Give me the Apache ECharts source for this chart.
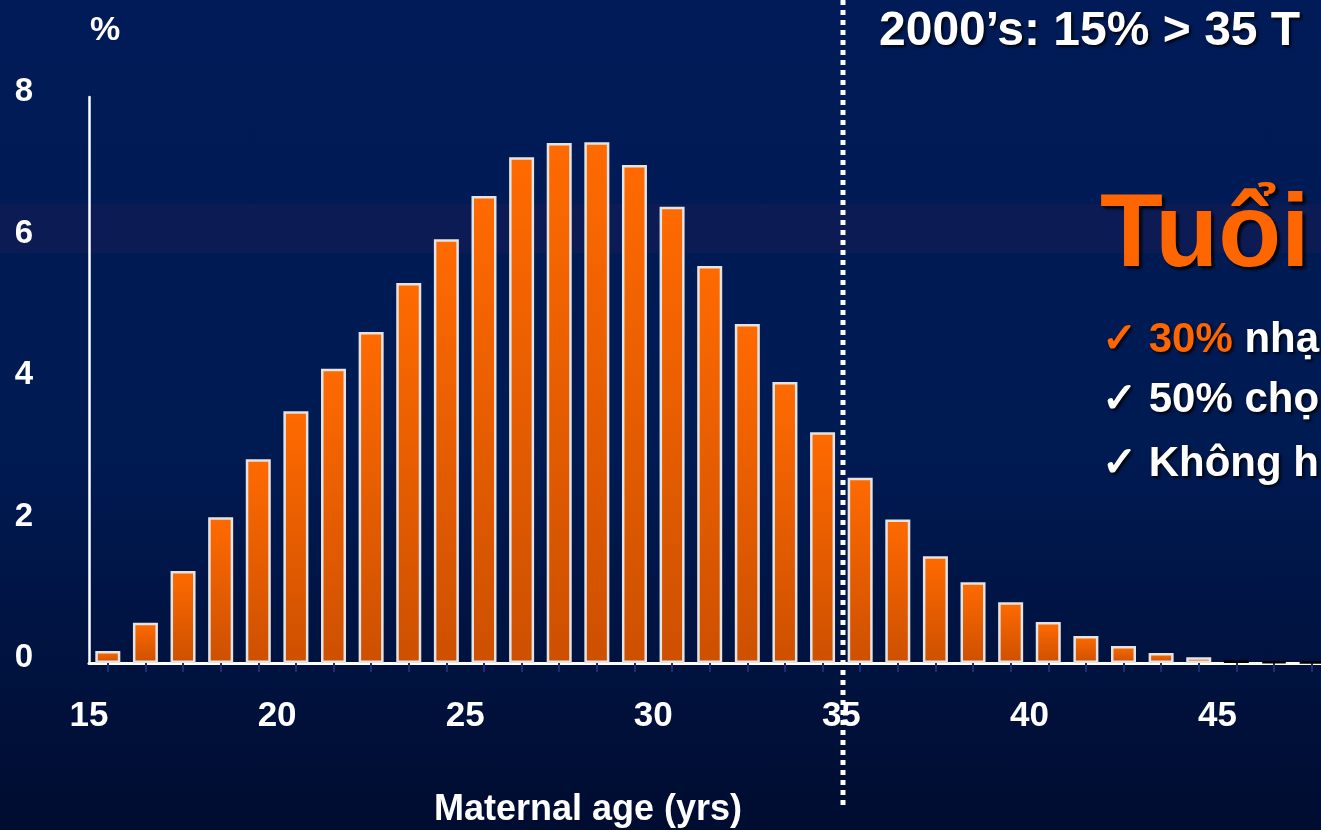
<!DOCTYPE html>
<html lang="vi">
<head>
<meta charset="UTF-8">
<title>Maternal age (yrs)</title>
<script src="https://cdn.jsdelivr.net/npm/echarts@6/dist/echarts.min.js"></script>
<style>
    body {
        margin: 0;
        padding: 0;
        background: #000c30;
    }
    #chart {
        width: 1321px;
        height: 830px;
        background: linear-gradient(180deg, #001b57 0%, #001a52 55%, #000c30 100%);
    }
</style>
</head>
<body>
<div id="chart"></div>
<script>
    // bar centres (age in years) and share of births (%)
    const ages = [15.5, 16.5, 17.5, 18.5, 19.5, 20.5, 21.5, 22.5, 23.5, 24.5, 25.5,
        26.5, 27.5, 28.5, 29.5, 30.5, 31.5, 32.5, 33.5, 34.5, 35.5, 36.5, 37.5,
        38.5, 39.5, 40.5, 41.5, 42.5, 43.5, 44.5, 45.5, 46.5, 47.5];
    const shares = [0.17, 0.57, 1.30, 2.06, 2.88, 3.56, 4.16, 4.68, 5.37, 5.99, 6.60,
        7.15, 7.35, 7.36, 7.04, 6.45, 5.61, 4.79, 3.97, 3.26, 2.62, 2.03, 1.51,
        1.14, 0.86, 0.58, 0.38, 0.24, 0.14, 0.08, 0.04, 0.02, 0.015];
    const xLabels = [15, 20, 25, 30, 35, 40, 45];

    const FONT = '"Liberation Sans", Arial, sans-serif';
    const chart = echarts.init(document.getElementById('chart'));

    const barColor = new echarts.graphic.LinearGradient(0, 0, 0, 1, [
        { offset: 0, color: '#ff6a00' },
        { offset: 1, color: '#cd5000' }
    ]);

    // very small values at the tail show up as dark slivers
    const barData = ages.map((a, i) => shares[i] < 0.05
        ? { value: [a, shares[i]], itemStyle: { color: '#000', borderColor: '#000' } }
        : [a, shares[i]]);

    const shadow = {
        textShadowColor: 'rgba(0,0,0,0.85)',
        textShadowBlur: 3,
        textShadowOffsetX: 2,
        textShadowOffsetY: 2
    };

    chart.setOption({
        animation: false,
        grid: { left: 89, right: 0, top: 97, bottom: 167 },
        xAxis: {
            type: 'value',
            min: 15,
            max: 47.75,
            interval: 5,
            splitLine: { show: false },
            axisLine: { show: true, lineStyle: { color: '#ffffff', width: 3 } },
            axisTick: {
                show: true,
                customValues: ages,
                length: 9,
                lineStyle: { color: '#1b2d6f', width: 2 }
            },
            axisLabel: {
                customValues: xLabels,
                margin: 36,
                color: '#ffffff',
                fontSize: 35,
                fontWeight: 'bold',
                fontFamily: FONT
            }
        },
        yAxis: {
            type: 'value',
            min: 0,
            max: 8,
            interval: 2,
            splitLine: { show: false },
            axisLine: { show: true, lineStyle: { color: '#ffffff', width: 2.5 } },
            axisTick: { show: false },
            axisLabel: {
                margin: 56,
                verticalAlign: 'bottom',
                lineHeight: 10,
                color: '#ffffff',
                fontSize: 33,
                fontWeight: 'bold',
                fontFamily: FONT
            }
        },
        series: [{
            type: 'bar',
            barWidth: 25,
            data: barData,
            itemStyle: {
                color: barColor,
                borderColor: '#e4e4e4',
                borderWidth: 2.5
            }
        }],
        graphic: [
            {
                type: 'rect',
                z: -1,
                shape: { x: 0, y: 204, width: 1321, height: 49 },
                style: { fill: '#0d1b55' }
            },
            {
                type: 'line',
                z: 50,
                shape: { x1: 843, y1: 0, x2: 843, y2: 805 },
                style: { stroke: '#ffffff', lineWidth: 5, lineDash: [5, 5] }
            },
            {
                type: 'text',
                z: 60,
                x: 105, y: 31,
                style: {
                    text: '%', fill: '#ffffff', align: 'center', verticalAlign: 'middle',
                    font: 'bold 34px ' + FONT
                }
            },
            {
                type: 'text',
                z: 60,
                x: 588, y: 810,
                style: {
                    text: 'Maternal age (yrs)', fill: '#ffffff', align: 'center', verticalAlign: 'middle',
                    font: 'bold 36px ' + FONT
                }
            },
            {
                type: 'text',
                z: 60,
                x: 879, y: 32,
                style: Object.assign({
                    text: '2000’s: 15% > 35 T', fill: '#ffffff', align: 'left', verticalAlign: 'middle',
                    font: 'bold 48px ' + FONT
                }, shadow)
            },
            {
                type: 'text',
                z: 60,
                x: 1100, y: 238,
                style: Object.assign({
                    text: 'Tuổi', fill: '#ff6600', align: 'left', verticalAlign: 'middle',
                    font: 'bold 103px ' + FONT
                }, shadow, { textShadowOffsetX: 3, textShadowOffsetY: 3 })
            },
            {
                type: 'text',
                z: 60,
                x: 1102, y: 340,
                style: Object.assign({
                    text: '{o|✓ 30%} {w|nhạ}',
                    align: 'left', verticalAlign: 'middle',
                    font: 'bold 42px ' + FONT,
                    rich: {
                        o: { fill: '#ff6600', fontSize: 42, fontWeight: 'bold', fontFamily: FONT },
                        w: { fill: '#ffffff', fontSize: 42, fontWeight: 'bold', fontFamily: FONT }
                    }
                }, shadow)
            },
            {
                type: 'text',
                z: 60,
                x: 1102, y: 400,
                style: Object.assign({
                    text: '✓ 50% chọ', fill: '#ffffff', align: 'left', verticalAlign: 'middle',
                    font: 'bold 42px ' + FONT
                }, shadow)
            },
            {
                type: 'text',
                z: 60,
                x: 1102, y: 464,
                style: Object.assign({
                    text: '✓ Không h', fill: '#ffffff', align: 'left', verticalAlign: 'middle',
                    font: 'bold 42px ' + FONT
                }, shadow)
            }
        ]
    });
</script>
</body>
</html>
